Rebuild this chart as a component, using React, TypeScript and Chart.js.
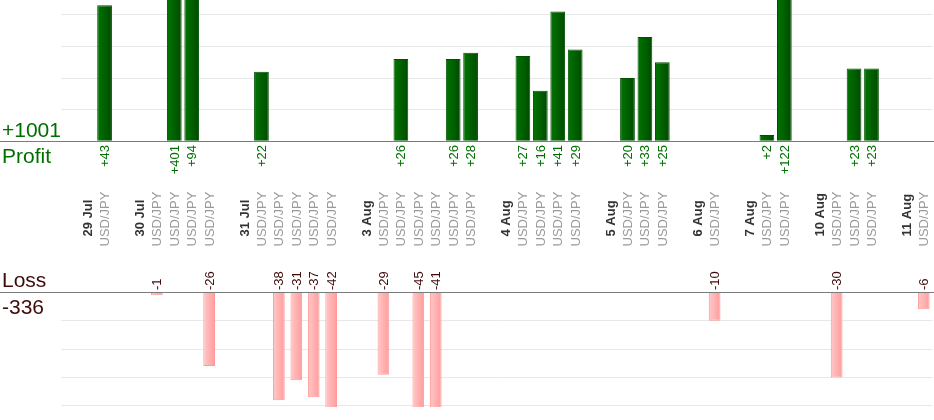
import React, { useEffect, useRef } from 'react';
import { Chart, registerables } from 'chart.js';

Chart.register(...registerables);

const FONT = '"Liberation Sans", Arial, sans-serif';
const GREEN = '#006f00';
const MAROON = '#3f0a0a';
const GRID = '#e8e8e8';
const PAIR = 'USD/JPY';
const _ = null;
const P = PAIR;

// one column per slot: '' = spacer, a date = day header, PAIR = one trade
const slotLabels = [
  '', '29 Jul', P, '',
  '30 Jul', P, P, P, P, '',
  '31 Jul', P, P, P, P, P, '',
  '3 Aug', P, P, P, P, P, P, '',
  '4 Aug', P, P, P, P, '',
  '5 Aug', P, P, P, '',
  '6 Aug', P, '',
  '7 Aug', P, P, '',
  '10 Aug', P, P, P, '',
  '11 Aug', P,
];

const profit: (number | null)[] = [
  _, _, 43, _,
  _, _, 401, 94, _, _,
  _, 22, _, _, _, _, _,
  _, _, 26, _, _, 26, 28, _,
  _, 27, 16, 41, 29, _,
  _, 20, 33, 25, _,
  _, _, _,
  _, 2, 122, _,
  _, _, 23, 23, _,
  _, _,
];

const loss: (number | null)[] = [
  _, _, _, _,
  _, -1, _, _, -26, _,
  _, _, -38, -31, -37, -42, _,
  _, -29, _, -45, -41, _, _, _,
  _, _, _, _, _, _,
  _, _, _, _, _,
  _, -10, _,
  _, _, _, _,
  _, -30, _, _, _,
  _, -6,
];

const totalProfit = profit.reduce((s: number, v) => s + (v ?? 0), 0);
const totalLoss = loss.reduce((s: number, v) => s + (v ?? 0), 0);

const barGradient = (from: string, to: string, frac: number) => (c: any) => {
  const chart = c.chart;
  const x = chart.scales && chart.scales.x;
  if (!x || c.dataIndex == null || !chart.chartArea) return to;
  const cx = x.getPixelForValue(c.dataIndex);
  const half = ((chart.chartArea.width / slotLabels.length) * frac) / 2;
  if (!isFinite(cx) || !isFinite(half)) return to;
  const g = chart.ctx.createLinearGradient(cx - half, 0, cx + half, 0);
  g.addColorStop(0, from);
  g.addColorStop(1, to);
  return g;
};

function upText(ctx: CanvasRenderingContext2D, text: string, x: number, y: number, align: CanvasTextAlign) {
  ctx.save();
  ctx.translate(x, y);
  ctx.rotate(-Math.PI / 2);
  ctx.textAlign = align;
  ctx.textBaseline = 'middle';
  ctx.fillText(text, 0, 1);
  ctx.restore();
}

const profitDecor = {
  id: 'profitDecor',
  afterDraw(chart: any) {
    const { ctx, chartArea, scales } = chart;
    const x = scales.x;
    const base = Math.round(chartArea.bottom) + 0.5;
    ctx.save();
    ctx.strokeStyle = '#7a7a7a';
    ctx.lineWidth = 1;
    ctx.beginPath();
    ctx.moveTo(0, base);
    ctx.lineTo(chart.width, base);
    ctx.stroke();

    ctx.fillStyle = GREEN;
    ctx.font = `21px ${FONT}`;
    ctx.textAlign = 'left';
    ctx.textBaseline = 'alphabetic';
    ctx.fillText('+' + totalProfit, 2, 137);
    ctx.fillText('Profit', 2, 163);

    ctx.font = `13px ${FONT}`;
    profit.forEach((v, i) => {
      if (v == null) return;
      upText(ctx, '+' + v, x.getPixelForValue(i), base + 3.5, 'right');
    });

    slotLabels.forEach((lab, i) => {
      if (!lab) return;
      const cx = x.getPixelForValue(i);
      if (lab === PAIR) {
        ctx.fillStyle = '#9a9a9a';
        ctx.font = `13px ${FONT}`;
        upText(ctx, lab, cx, 246.5, 'left');
      } else {
        ctx.fillStyle = '#333333';
        ctx.font = `bold 13px ${FONT}`;
        upText(ctx, lab, cx, 236.5, 'left');
      }
    });
    ctx.restore();
  },
};

const lossDecor = {
  id: 'lossDecor',
  afterDraw(chart: any) {
    const { ctx, chartArea, scales } = chart;
    const x = scales.x;
    const base = Math.round(chartArea.top) + 0.5;
    ctx.save();
    ctx.strokeStyle = '#7a7a7a';
    ctx.lineWidth = 1;
    ctx.beginPath();
    ctx.moveTo(0, base);
    ctx.lineTo(chart.width, base);
    ctx.stroke();

    ctx.fillStyle = MAROON;
    ctx.font = `21px ${FONT}`;
    ctx.textAlign = 'left';
    ctx.textBaseline = 'alphabetic';
    ctx.fillText('Loss', 2, 37);
    ctx.fillText(String(totalLoss), 2, 64);

    ctx.font = `13px ${FONT}`;
    loss.forEach((v, i) => {
      if (v == null) return;
      upText(ctx, String(v), x.getPixelForValue(i), 40, 'left');
    });
    ctx.restore();
  },
};

const hiddenX = { type: 'category' as const, display: false, offset: true };

export default function App() {
  const topRef = useRef<HTMLCanvasElement>(null);
  const bottomRef = useRef<HTMLCanvasElement>(null);

  useEffect(() => {
    document.body.style.margin = '0';
    if (!topRef.current || !bottomRef.current) return;

    const top = new Chart(topRef.current, {
      type: 'bar',
      data: {
        labels: slotLabels,
        datasets: [
          {
            data: profit,
            backgroundColor: barGradient('#007600', '#004a00', 0.845),
            borderColor: '#005000',
            borderWidth: 1,
            categoryPercentage: 1,
            barPercentage: 0.845,
          },
        ],
      },
      options: {
        responsive: true,
        maintainAspectRatio: false,
        animation: false,
        events: [],
        layout: { padding: { left: 61, right: 1.5, top: 0, bottom: 108.7 } },
        plugins: { legend: { display: false }, tooltip: { enabled: false } },
        scales: {
          x: hiddenX,
          y: {
            min: 0,
            max: 44.67,
            ticks: { display: false, stepSize: 10, includeBounds: false },
            grid: { color: GRID, drawTicks: false },
            border: { display: false },
          },
        },
      },
      plugins: [profitDecor],
    });

    const bottom = new Chart(bottomRef.current, {
      type: 'bar',
      data: {
        labels: slotLabels,
        datasets: [
          {
            data: loss,
            backgroundColor: barGradient('#ffc8c8', '#ff9c9c', 0.67),
            borderColor: '#ff9a9a',
            borderWidth: 1,
            categoryPercentage: 1,
            barPercentage: 0.67,
          },
        ],
      },
      options: {
        responsive: true,
        maintainAspectRatio: false,
        animation: false,
        events: [],
        layout: { padding: { left: 61, right: 1.5, top: 42.3, bottom: 13 } },
        plugins: { legend: { display: false }, tooltip: { enabled: false } },
        scales: {
          x: hiddenX,
          y: {
            min: -40.4,
            max: 0,
            ticks: { display: false, stepSize: 10, includeBounds: false },
            grid: { color: GRID, drawTicks: false },
            border: { display: false },
          },
        },
      },
      plugins: [lossDecor],
    });

    return () => {
      top.destroy();
      bottom.destroy();
    };
  }, []);

  return (
    <div style={{ position: 'absolute', left: 0, top: 0, width: 934, height: 420 }}>
      <div style={{ position: 'absolute', left: 0, top: 0, width: 934, height: 250 }}>
        <canvas ref={topRef} />
      </div>
      <div style={{ position: 'absolute', left: 0, top: 250, width: 934, height: 170 }}>
        <canvas ref={bottomRef} />
      </div>
    </div>
  );
}
